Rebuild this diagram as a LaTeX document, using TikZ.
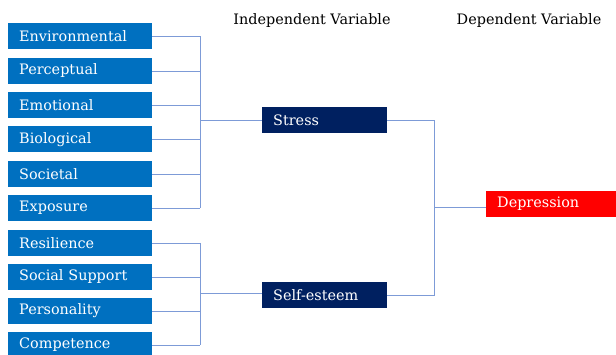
\documentclass[tikz,border=0pt]{standalone}
\usepackage{fontspec}
\setmainfont{DejaVu Serif}
\definecolor{lblue}{RGB}{0,112,192}
\definecolor{navy}{RGB}{0,32,96}
\definecolor{redbox}{RGB}{255,0,0}
\definecolor{linec}{RGB}{125,155,215}
\tikzset{
  boxfont/.style={font=\fontsize{14.4pt}{16pt}\selectfont},
  factor/.style={boxfont, fill=lblue, text=white, anchor=west, minimum height=26pt, text width=122pt, inner xsep=11pt, inner ysep=0pt, align=left},
  mid/.style={boxfont, fill=navy, text=white, anchor=west, minimum height=26pt, text width=103pt, inner xsep=11pt, inner ysep=0pt, align=left},
  outbox/.style={boxfont, fill=redbox, text=white, anchor=west, minimum height=26pt, text width=118pt, inner xsep=11pt, inner ysep=0pt, align=left},
  head/.style={boxfont, text=black},
  conn/.style={draw=linec, line width=0.9pt}
}
\begin{document}
\begin{tikzpicture}[x=1pt,y={(0pt,-1pt)}]
\useasboundingbox (0,0) rectangle (616,355);
\node[head] (hind) at (312,21) {Independent Variable};
\node[head] (hdep) at (529,21) {Dependent Variable};
\node[factor] (env) at (8,36.5) {Environmental};
\node[factor] (per) at (8,71) {Perceptual};
\node[factor] (emo) at (8,105) {Emotional};
\node[factor] (bio) at (8,139.5) {Biological};
\node[factor] (soc) at (8,174) {Societal};
\node[factor] (exp) at (8,208) {Exposure};
\node[factor] (res) at (8,243) {Resilience};
\node[factor] (sup) at (8,277) {Social Support};
\node[factor] (pers) at (8,311) {Personality};
\node[factor] (comp) at (8,345) {Competence};
\node[mid] (stress) at (262,120) {Stress};
\node[mid] (self) at (262,295) {Self-esteem};
\node[outbox] (dep) at (486,204) {Depression};
\coordinate (j1) at (200,120);
\coordinate (j2) at (200,293);
\coordinate (j3) at (434,207);
\foreach \n in {env,per,emo,bio,soc,exp,res,sup,pers,comp}
  \draw[conn] (\n.east) -- (\n.east -| j1);
\draw[conn] (env.east -| j1) -- (exp.east -| j1);
\draw[conn] (res.east -| j2) -- (comp.east -| j2);
\draw[conn] (j1) -- (stress.west);
\draw[conn] (j2) -- (j2 -| self.west);
\draw[conn] (stress.east) -- (stress.east -| j3) -- (self.east -| j3) -- (self.east);
\draw[conn] (j3) -- (j3 -| dep.west);
\end{tikzpicture}
\end{document}
